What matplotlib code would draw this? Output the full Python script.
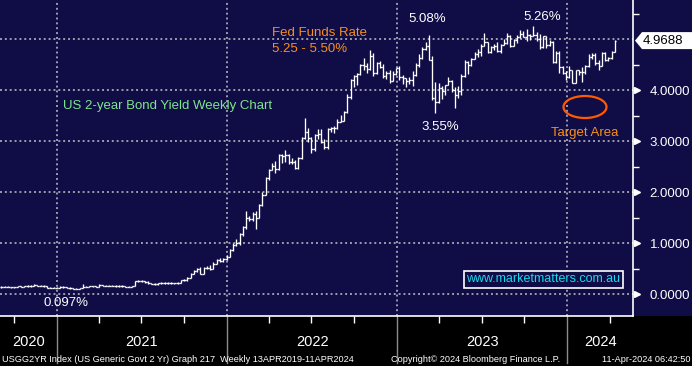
import numpy as np
import pandas as pd
import matplotlib
matplotlib.use("Agg")
import matplotlib.pyplot as plt
import matplotlib.dates as mdates
from matplotlib.patches import Ellipse, Polygon, Rectangle
from matplotlib.transforms import blended_transform_factory
from matplotlib import font_manager

# weekly US 2yr yield, Sep 2020 - Apr 2024
c2020 = [0.13, 0.14, 0.14, 0.13, 0.13, 0.15, 0.14, 0.15, 0.15, 0.16, 0.18, 0.16, 0.16, 0.15, 0.12, 0.12, 0.12]
h2020 = [0.15, 0.15, 0.15, 0.14, 0.14, 0.16, 0.16, 0.16, 0.17, 0.17, 0.19, 0.18, 0.17, 0.17, 0.15, 0.13, 0.13]
l2020 = [0.12, 0.13, 0.13, 0.12, 0.12, 0.13, 0.13, 0.14, 0.14, 0.14, 0.15, 0.15, 0.15, 0.14, 0.11, 0.11, 0.11]

c2021 = [0.12, 0.14, 0.13, 0.12, 0.11, 0.10, 0.10, 0.11, 0.14, 0.14, 0.15, 0.15, 0.14,
         0.18, 0.16, 0.16, 0.16, 0.16, 0.15, 0.15, 0.16, 0.14, 0.14, 0.15, 0.25, 0.26,
         0.25, 0.24, 0.22, 0.20, 0.19, 0.21, 0.21, 0.22, 0.21, 0.21, 0.21, 0.22, 0.27,
         0.27, 0.32, 0.40, 0.45, 0.50, 0.40, 0.51, 0.51, 0.50, 0.59, 0.66, 0.64, 0.68, 0.73]
h2021 = [0.13, 0.15, 0.15, 0.13, 0.13, 0.12, 0.11, 0.12, 0.19, 0.16, 0.16, 0.16, 0.16,
         0.19, 0.18, 0.17, 0.17, 0.17, 0.17, 0.17, 0.17, 0.16, 0.16, 0.16, 0.26, 0.27,
         0.27, 0.26, 0.25, 0.22, 0.21, 0.22, 0.23, 0.23, 0.23, 0.23, 0.22, 0.24, 0.28,
         0.30, 0.33, 0.42, 0.47, 0.51, 0.52, 0.53, 0.54, 0.56, 0.62, 0.69, 0.70, 0.70, 0.76]
l2021 = [0.11, 0.12, 0.12, 0.11, 0.10, 0.10, 0.097, 0.10, 0.11, 0.13, 0.13, 0.14, 0.13,
         0.14, 0.15, 0.15, 0.15, 0.15, 0.14, 0.14, 0.14, 0.14, 0.13, 0.14, 0.15, 0.24,
         0.23, 0.22, 0.20, 0.19, 0.17, 0.17, 0.20, 0.20, 0.20, 0.20, 0.20, 0.20, 0.21,
         0.25, 0.26, 0.32, 0.39, 0.43, 0.39, 0.40, 0.49, 0.47, 0.49, 0.58, 0.62, 0.63, 0.66]

c2022 = [0.87, 0.97, 1.01, 1.17, 1.31, 1.50, 1.47, 1.57, 1.50, 1.75, 1.95, 2.27,
         2.44, 2.51, 2.46, 2.72, 2.71, 2.72, 2.59, 2.59, 2.48, 2.66, 3.06, 3.17, 3.05,
         2.84, 3.11, 3.13, 2.99, 2.88, 3.23, 3.25, 3.25, 3.38, 3.39, 3.56, 3.87, 4.20, 4.28,
         4.31, 4.50, 4.48, 4.41, 4.66, 4.33, 4.53, 4.45, 4.28, 4.34, 4.18, 4.31, 4.43]
h2022 = [0.89, 1.00, 1.07, 1.20, 1.33, 1.62, 1.53, 1.60, 1.62, 1.77, 2.00, 2.30,
         2.46, 2.56, 2.60, 2.74, 2.74, 2.82, 2.74, 2.67, 2.63, 2.69, 3.07, 3.45, 3.25,
         3.08, 3.13, 3.24, 3.24, 3.03, 3.25, 3.28, 3.29, 3.43, 3.51, 3.58, 3.92, 4.21, 4.29,
         4.33, 4.51, 4.62, 4.53, 4.78, 4.72, 4.54, 4.57, 4.51, 4.37, 4.39, 4.37, 4.44]
l2022 = [0.73, 0.85, 0.95, 0.97, 1.14, 1.28, 1.44, 1.44, 1.27, 1.51, 1.73, 1.94,
         2.24, 2.44, 2.38, 2.44, 2.56, 2.58, 2.55, 2.55, 2.46, 2.45, 2.64, 3.03, 2.99,
         2.76, 2.80, 3.04, 2.96, 2.84, 2.85, 3.17, 3.15, 3.23, 3.38, 3.39, 3.55, 3.83, 4.06,
         4.09, 4.30, 4.40, 4.33, 4.40, 4.28, 4.31, 4.44, 4.23, 4.21, 4.13, 4.19, 4.30]

c2023 = [4.25, 4.23, 4.18, 4.20, 4.29, 4.49, 4.62, 4.81, 4.86, 4.59, 3.84, 3.77, 4.03,
         3.99, 4.09, 4.18, 4.01, 3.91, 3.98, 4.27, 4.55, 4.50, 4.60, 4.71, 4.74, 4.87,
         4.94, 4.74, 4.84, 4.87, 4.77, 4.89, 4.93, 5.05, 4.87, 4.99, 5.03, 5.10, 5.04,
         5.08, 5.05, 5.08, 5.00, 4.84, 5.06, 4.89, 4.95, 4.54, 4.72, 4.45, 4.33, 4.25]
h2023 = [4.48, 4.29, 4.24, 4.26, 4.37, 4.52, 4.70, 4.84, 4.94, 5.08, 4.66, 4.16, 4.13,
         4.08, 4.10, 4.25, 4.20, 4.06, 4.07, 4.32, 4.59, 4.57, 4.62, 4.75, 4.80, 4.90,
         5.12, 4.95, 4.87, 4.91, 4.94, 4.90, 5.00, 5.11, 5.07, 5.00, 5.07, 5.17, 5.15,
         5.19, 5.10, 5.26, 5.14, 5.09, 5.06, 5.06, 4.98, 4.96, 4.76, 4.76, 4.47, 4.37]
l2023 = [4.20, 4.12, 4.06, 4.11, 4.08, 4.27, 4.45, 4.60, 4.78, 4.58, 3.81, 3.55, 3.74,
         3.83, 3.91, 4.09, 3.96, 3.65, 3.84, 3.91, 4.25, 4.31, 4.47, 4.62, 4.65, 4.66,
         4.86, 4.73, 4.72, 4.79, 4.75, 4.73, 4.88, 4.90, 4.84, 4.86, 4.92, 5.02, 5.03,
         4.96, 4.99, 5.05, 4.97, 4.80, 4.83, 4.82, 4.86, 4.52, 4.53, 4.34, 4.32, 4.20]

c2024 = [4.39, 4.14, 4.39, 4.35, 4.36, 4.48, 4.64, 4.69, 4.53, 4.48, 4.73, 4.59, 4.62, 4.75, 4.9688]
h2024 = [4.48, 4.40, 4.40, 4.40, 4.46, 4.49, 4.70, 4.73, 4.72, 4.58, 4.74, 4.74, 4.64, 4.77, 4.98]
l2024 = [4.24, 4.13, 4.14, 4.29, 4.16, 4.32, 4.46, 4.60, 4.50, 4.40, 4.47, 4.57, 4.56, 4.61, 4.74]

closes = np.array(c2020 + c2021 + c2022 + c2023 + c2024)
highs = np.array(h2020 + h2021 + h2022 + h2023 + h2024)
lows = np.array(l2020 + l2021 + l2022 + l2023 + l2024)
weeks = pd.date_range("2020-09-04", periods=len(closes), freq="W-FRI")
opens = np.r_[closes[0], closes[:-1]]

NAVY = "#0f0c46"
GRID = "#9c9cac"
ORANGE = "#f7901e"

names = {f.name for f in font_manager.fontManager.ttflist}
narrow = "Liberation Sans Narrow" if "Liberation Sans Narrow" in names else "Liberation Sans"
foot_size = 7.5 if narrow == "Liberation Sans Narrow" else 6.6
plt.rcParams["font.family"] = ["Liberation Sans", "DejaVu Sans"]

fig = plt.figure(figsize=(6.92, 3.66), dpi=100, facecolor="black")
fig.add_artist(Rectangle((0, 50 / 366), 1, 316 / 366, transform=fig.transFigure,
                         facecolor=NAVY, edgecolor="none", zorder=-10))
ax = fig.add_axes([0, 50 / 366, 633 / 692, 316 / 366])
ax.set_facecolor(NAVY)

x0 = mdates.date2num(pd.Timestamp("2020-09-01"))
x1 = mdates.date2num(pd.Timestamp("2024-05-21"))
ax.set_xlim(x0, x1)
ax.set_ylim(-0.431, 5.765)

# grid
dots = (0, (1, 1.5))
for v in range(0, 6):
    ax.axhline(v, color=GRID, lw=1.4, ls=dots, zorder=1)
years = [2021, 2022, 2023, 2024]
for yr in years:
    ax.axvline(mdates.date2num(pd.Timestamp(f"{yr}-01-01")), color=GRID, lw=1.4, ls=dots, zorder=1)

# OHLC bars
xd = mdates.date2num(weeks)
lo = np.minimum(lows, np.minimum(opens, closes))
hi = np.maximum(highs, np.maximum(opens, closes))
ax.vlines(xd, lo, hi, color="white", lw=0.95, zorder=3)
ax.hlines(opens, xd - 3.5, xd, color="white", lw=0.95, zorder=3)
ax.hlines(closes, xd, xd + 3.5, color="white", lw=0.95, zorder=3)

# spines
for s in ["left", "top"]:
    ax.spines[s].set_visible(False)
for s in ["right", "bottom"]:
    ax.spines[s].set_color("white")
    ax.spines[s].set_linewidth(1.2)

# right axis
ax.yaxis.tick_right()
yt = [0, 1, 2, 3, 4]
ax.set_yticks(yt)
ax.set_yticklabels([f"{v:.4f}" for v in yt])
ax.set_yticks([0.5, 1.5, 2.5, 3.5, 4.5, 5.5], minor=True)
ax.tick_params(axis="y", which="both", colors="white", length=4, width=1, labelsize=9.5, pad=8)
bt = blended_transform_factory(ax.transAxes, ax.transData)
ax.plot([1 + 4 / 633] * len(yt), yt, ls="none", marker=">", ms=5, color="white",
        transform=bt, clip_on=False)

# bottom axis: quarterly ticks
quarters = [d for d in pd.date_range("2020-10-01", "2024-05-01", freq="QS") if d.month != 1]
ax.set_xticks(mdates.date2num(quarters))
ax.set_xticklabels([])
ax.tick_params(axis="x", colors="white", length=5, width=1, direction="out")

tb = blended_transform_factory(ax.transData, ax.transAxes)
for yr in years:
    d = mdates.date2num(pd.Timestamp(f"{yr}-01-01"))
    ax.plot([d, d], [0, -0.15], color="#8c8c8c", lw=1, transform=tb, clip_on=False)
for yr in [2020, 2021, 2022, 2023, 2024]:
    a = max(mdates.date2num(pd.Timestamp(f"{yr}-01-01")), x0)
    b = min(mdates.date2num(pd.Timestamp(f"{yr + 1}-01-01")), x1)
    ax.text((a + b) / 2, -0.082, str(yr), transform=tb, ha="center", va="center",
            color="white", fontsize=10.5, family=narrow)

# last price box
yl = closes[-1]
hh = 8.5 / 51
ax.add_patch(Polygon([(1 + 2 / 633, yl), (1 + 9 / 633, yl + hh), (692 / 633, yl + hh),
                      (692 / 633, yl - hh), (1 + 9 / 633, yl - hh)], closed=True,
                     facecolor="white", edgecolor="none", transform=bt, clip_on=False, zorder=5))
ax.text(1 + 10 / 633, yl, f"{yl:.4f}", transform=bt, ha="left", va="center",
        color="black", fontsize=9.5, zorder=6)


def P(xp, yp):
    return xp / 633, 1 - yp / 316


def note(xp, yp, s, color="white", size=9.5):
    ax.text(*P(xp, yp), s, transform=ax.transAxes, ha="left", va="center",
            color=color, fontsize=size, zorder=6)


note(272, 33, "Fed Funds Rate", ORANGE)
note(272, 49, "5.25 - 5.50%", ORANGE)
note(63, 106, "US 2-year Bond Yield Weekly Chart", "#80e58c")
note(408, 19, "5.08%")
note(523, 17, "5.26%")
note(421, 127, "3.55%")
note(44, 303, "0.097%")
note(551, 133, "Target Area", ORANGE)

ax.add_patch(Ellipse(P(585, 107), 43 / 633, 22 / 316, transform=ax.transAxes,
                     facecolor="none", edgecolor="#ff5a00", lw=1.6, zorder=6))

ax.text(*P(543, 279), "www.marketmatters.com.au", transform=ax.transAxes, ha="center",
        va="center", color="#19d9f0", fontsize=9, zorder=6,
        bbox=dict(boxstyle="square,pad=0.2", facecolor=NAVY, edgecolor="white", lw=1.2))

# footer
fy = 1 - 359 / 366
fig.text(2 / 692, fy, "USGG2YR Index (US Generic Govt 2 Yr) Graph 217  Weekly 13APR2019-11APR2024",
         ha="left", va="center", color="white", fontsize=foot_size, family=narrow)
fig.text(476 / 692, fy, "Copyright\u00a9 2024 Bloomberg Finance L.P.",
         ha="center", va="center", color="white", fontsize=foot_size, family=narrow)
fig.text(690 / 692, fy, "11-Apr-2024 06:42:50",
         ha="right", va="center", color="white", fontsize=foot_size, family=narrow)

fig.savefig("out.png", dpi=100, facecolor=fig.get_facecolor())
